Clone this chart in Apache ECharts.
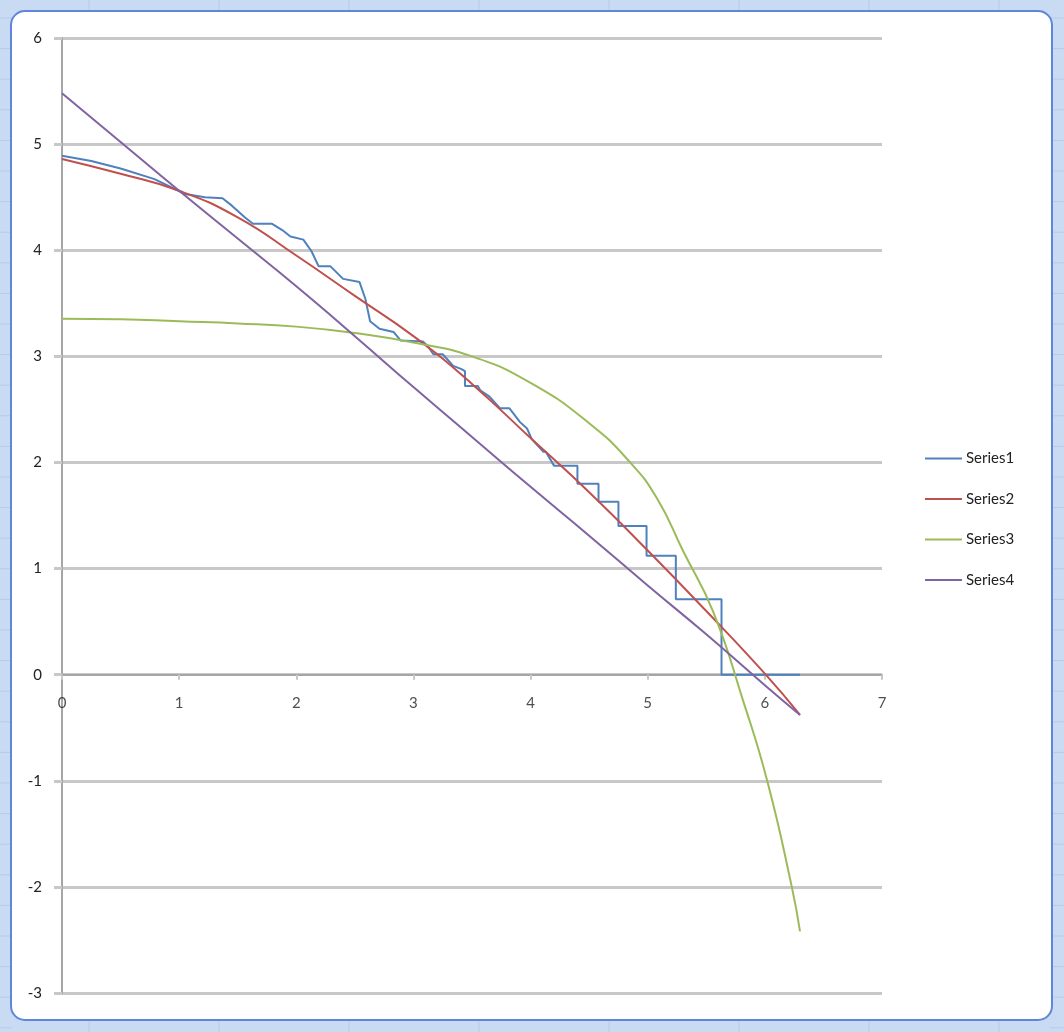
<!DOCTYPE html>
<html>
<head>
<meta charset="utf-8">
<script src="https://cdn.jsdelivr.net/npm/echarts@6/dist/echarts.min.js"></script>
<style>
  html, body { margin: 0; padding: 0; background: #c9dbf3; }
  #chart { width: 1064px; height: 1032px; }
</style>
</head>
<body>
<div id="chart"></div>
<script>
// axis ticks
const xTicks = [0, 1, 2, 3, 4, 5, 6, 7]
const yTicks = [-3, -2, -1, 0, 1, 2, 3, 4, 5, 6]
const seriesNames = ['Series1', 'Series2', 'Series3', 'Series4']

// Series1: wavy curve that turns into a staircase
const series1 = [
  [0, 4.89], [0.25, 4.84], [0.5, 4.77], [0.79, 4.67], [1.05, 4.53], [1.22, 4.50],
  [1.37, 4.49], [1.45, 4.42], [1.56, 4.31], [1.63, 4.25], [1.79, 4.25], [1.88, 4.19],
  [1.95, 4.13], [2.06, 4.10], [2.13, 3.99], [2.19, 3.85], [2.29, 3.85], [2.40, 3.73],
  [2.54, 3.70], [2.59, 3.54], [2.63, 3.33], [2.71, 3.26], [2.83, 3.23], [2.89, 3.15],
  [3.08, 3.14], [3.12, 3.10], [3.17, 3.02], [3.25, 3.02], [3.34, 2.91], [3.41, 2.88],
  [3.44, 2.86], [3.44, 2.72], [3.55, 2.72], [3.57, 2.68], [3.65, 2.62], [3.74, 2.51],
  [3.82, 2.51], [3.91, 2.38], [3.97, 2.32], [4.01, 2.22], [4.11, 2.10], [4.13, 2.10],
  [4.20, 1.97], [4.40, 1.97], [4.40, 1.80], [4.58, 1.80], [4.58, 1.63], [4.75, 1.63],
  [4.75, 1.40], [4.99, 1.40], [4.99, 1.12], [5.24, 1.12], [5.24, 0.71], [5.63, 0.71],
  [5.63, 0], [6.3, 0]
]
const series2 = [
  [0, 4.86], [0.5, 4.72], [1, 4.56], [1.5, 4.31], [2, 3.95], [2.5, 3.57], [3, 3.19],
  [3.5, 2.74], [4, 2.23], [4.5, 1.72], [5, 1.17], [5.5, 0.6], [6, 0.01], [6.3, -0.38]
]
const series3 = [
  [0, 3.355], [0.5, 3.35], [1, 3.33], [1.5, 3.31], [2, 3.28], [2.5, 3.22], [3, 3.13],
  [3.5, 3.0], [4, 2.75], [4.5, 2.37], [4.85, 2.0], [5.08, 1.66], [5.3, 1.17],
  [5.56, 0.59], [5.81, -0.23], [6.02, -1.0], [6.23, -2.0], [6.3, -2.42]
]
const series4 = [
  [0, 5.48], [0.5, 5.02], [1, 4.56], [1.5, 4.11], [2, 3.66], [2.5, 3.19], [3, 2.71],
  [3.5, 2.24], [4, 1.77], [4.5, 1.31], [5, 0.84], [5.5, 0.38], [6, -0.1], [6.3, -0.38]
]

const colors = ['#4f81bd', '#c0504d', '#9bbb59', '#8064a2']
const font = 'Lato, "Open Sans", sans-serif'

// spreadsheet cell lines behind the chart window
const cellLines = []
for (let x = 89; x < 1064; x += 130) {
  cellLines.push({ type: 'line', shape: { x1: x, y1: 0, x2: x, y2: 1032 }, style: { stroke: '#b4cbea', lineWidth: 1 }, silent: true, z: -10 })
}
for (let y = 18; y < 1032; y += 30.6) {
  cellLines.push({ type: 'line', shape: { x1: 0, y1: y, x2: 12, y2: y }, style: { stroke: '#b4cbea', lineWidth: 1 }, silent: true, z: -10 })
  cellLines.push({ type: 'line', shape: { x1: 1050, y1: y, x2: 1064, y2: y }, style: { stroke: '#b4cbea', lineWidth: 1 }, silent: true, z: -10 })
}

const chart = echarts.init(document.getElementById('chart'))

chart.setOption({
  animation: false,
  backgroundColor: '#c9dbf3',
  color: colors,
  textStyle: { fontFamily: font },
  graphic: [
    ...cellLines,
    {
      type: 'rect',
      shape: { x: 11, y: 11, width: 1041, height: 1009, r: 14 },
      style: { fill: '#ffffff', stroke: '#5f86d8', lineWidth: 2 },
      silent: true,
      z: -5
    }
  ],
  grid: { left: 62, right: 182, top: 38, bottom: 39 },
  legend: {
    orient: 'vertical',
    left: 925,
    top: 451,
    padding: 0,
    icon: 'rect',
    itemWidth: 37,
    itemHeight: 2,
    itemGap: 25.5,
    data: seriesNames,
    textStyle: { fontFamily: font, fontSize: 15, color: '#222', padding: [0, 0, 0, -1] }
  },
  xAxis: {
    type: 'value',
    min: 0,
    max: 7,
    interval: 1,
    axisLine: { onZero: true, lineStyle: { color: '#a6a6a6', width: 2 } },
    axisTick: { show: true, length: 5, lineStyle: { color: '#c8c8c8', width: 2 } },
    axisLabel: { show: false },
    splitLine: { show: false }
  },
  yAxis: {
    type: 'value',
    min: -3,
    max: 6,
    interval: 1,
    axisLine: { show: true, onZero: false, lineStyle: { color: '#a6a6a6', width: 2 } },
    axisTick: { show: true, length: 8, lineStyle: { color: '#c8c8c8', width: 3 } },
    axisLabel: { margin: 20, fontSize: 15, color: '#222', fontFamily: font },
    splitLine: { show: true, lineStyle: { color: '#c8c8c8', width: 3 } }
  },
  series: [
    { name: 'Series1', type: 'line', data: series1, showSymbol: false, lineStyle: { width: 2 } },
    { name: 'Series2', type: 'line', data: series2, smooth: true, showSymbol: false, lineStyle: { width: 2 } },
    { name: 'Series3', type: 'line', data: series3, smooth: true, showSymbol: false, lineStyle: { width: 2 } },
    { name: 'Series4', type: 'line', data: series4, smooth: true, showSymbol: false, lineStyle: { width: 2 } },
    {
      // x tick labels sitting on the zero line
      name: 'xlabels',
      type: 'scatter',
      data: xTicks.map(x => [x, 0]),
      symbolSize: 0,
      silent: true,
      label: {
        show: true,
        position: 'bottom',
        distance: 21,
        fontSize: 15,
        color: '#222',
        fontFamily: font,
        formatter: p => String(p.value[0])
      },
      z: 1
    }
  ]
})
</script>
</body>
</html>
